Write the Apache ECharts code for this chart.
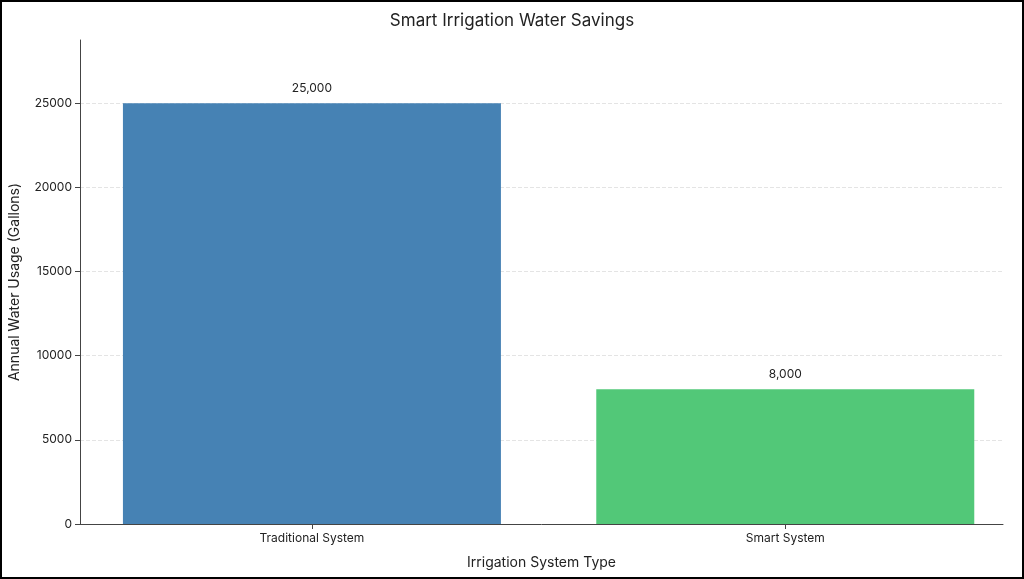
<!DOCTYPE html>
<html><head><meta charset="utf-8">
<script src="https://cdn.jsdelivr.net/npm/echarts@6/dist/echarts.min.js"></script>
<style>html,body{margin:0;padding:0;}#c{width:1024px;height:579px;box-sizing:border-box;border:2px solid #000;}</style>
</head><body><div id="c"></div>
<script>
const categories = ["Traditional System", "Smart System"];
const values = [25000, 8000];
const colors = ["#4682B4", "#52C878"];
const chart = echarts.init(document.getElementById('c'));
chart.setOption({
  animation: false,
  textStyle: {fontFamily: 'Inter, "Noto Sans", sans-serif'},
  title: {text: 'Smart Irrigation Water Savings', left: 'center', top: 5,
    textStyle: {fontSize: 17, fontWeight: 'normal', color: '#222'}},
  grid: {left: 78, right: 19, top: 38, bottom: 53, containLabel: false, outerBoundsMode: 'none'},
  xAxis: {type: 'value', min: -0.49, max: 1.46, name: 'Irrigation System Type',
    nameLocation: 'middle', nameGap: 32, nameTextStyle: {fontSize: 14, color: '#222'},
    splitLine: {show: false},
    axisLine: {onZero: false, lineStyle: {color: '#444'}},
    axisTick: {show: true, customValues: [0, 1], lineStyle: {color: '#444'}},
    axisLabel: {color: '#222', fontSize: 12, customValues: [0, 1], formatter: v => categories[Math.round(v)]}},
  yAxis: {type: 'value', min: 0, max: 28750, interval: 5000, name: 'Annual Water Usage (Gallons)',
    nameLocation: 'middle', nameGap: 58, nameTextStyle: {fontSize: 14, color: '#222'},
    axisLine: {show: true, onZero: false, lineStyle: {color: '#444'}}, axisTick: {show: true, lineStyle: {color: '#444'}},
    axisLabel: {color: '#222', fontSize: 12, showMaxLabel: false, formatter: v => String(v)},
    splitLine: {showMaxLine: false, lineStyle: {type: 'dashed', color: '#e4e4e4'}}},
  series: [{type: 'bar', barWidth: 378,
    data: values.map((v, i) => ({value: [i, v], itemStyle: {color: colors[i]}})),
    label: {show: true, position: 'top', distance: 9, color: '#222', fontSize: 12,
      formatter: p => p.value[1].toLocaleString('en-US')}}]
});
</script></body></html>
